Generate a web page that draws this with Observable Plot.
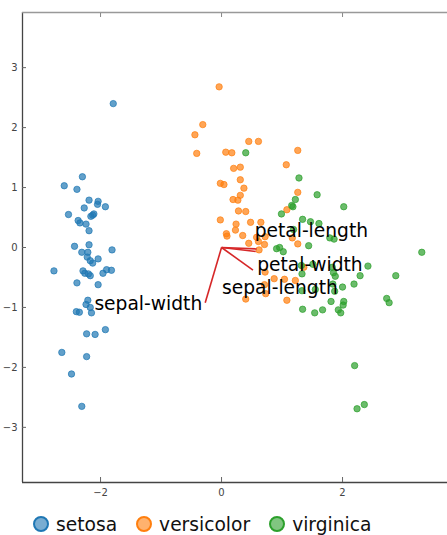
<!DOCTYPE html>
<html>
<head>
<meta charset="utf-8">
<script src="https://cdn.jsdelivr.net/npm/d3@7"></script>
<script src="https://cdn.jsdelivr.net/npm/@observablehq/plot@0.6"></script>
<style>
  html, body { margin: 0; padding: 0; background: #fff; overflow: hidden; }
  body { width: 447px; height: 535px; font-family: "DejaVu Sans", sans-serif; }
  #legend { display: flex; align-items: center; height: 48px; padding-left: 33px; box-sizing: border-box; font-size: 18.67px; color: #111; }
  .item { display: flex; align-items: center; margin-right: 19px; }
  .sw { width: 12px; height: 12px; border-radius: 50%; border: 2px solid; margin-right: 7px; box-sizing: content-box; }
</style>
</head>
<body>
<div id="chart"></div>
<div id="legend"></div>
<script>
// PCA scores (PC1, PC2)
const setosa = [
  [-1.79,2.40],[-2.30,1.18],[-2.60,1.03],[-2.39,0.97],[-2.19,0.79],[-2.04,0.77],[-2.05,0.72],[-2.27,0.66],
  [-1.92,0.68],[-2.53,0.55],[-2.11,0.56],[-2.16,0.52],[-2.13,0.54],[-2.37,0.45],[-2.34,0.41],[-2.24,0.39],
  [-2.19,0.28],[-2.43,0.02],[-2.19,0.045],[-1.81,-0.04],[-2.31,-0.08],[-2.21,-0.08],[-2.22,-0.16],[-2.17,-0.22],
  [-2.13,-0.26],[-2.04,-0.19],[-2.77,-0.39],[-2.29,-0.39],[-2.26,-0.43],[-2.20,-0.44],[-2.17,-0.47],[-1.96,-0.43],
  [-1.90,-0.37],[-1.82,-0.38],[-2.39,-0.59],[-2.04,-0.62],[-2.21,-0.88],[-2.24,-0.95],[-2.17,-1.00],[-2.15,-1.09],
  [-2.40,-1.07],[-2.35,-1.08],[-2.23,-1.44],[-2.09,-1.45],[-1.92,-1.37],[-2.64,-1.75],[-2.23,-1.82],[-2.48,-2.11],
  [-2.31,-2.65]
];
const versicolor = [
  [-0.04,2.68],[-0.31,2.05],[-0.44,1.88],[-0.41,1.57],[0.07,1.59],[0.17,1.58],[0.45,1.77],[0.61,1.77],
  [1.26,1.62],[0.31,1.34],[0.20,1.32],[1.07,1.38],[0.31,1.13],[-0.02,1.07],[0.04,1.05],[0.37,0.99],
  [0.31,0.87],[0.19,0.80],[0.27,0.79],[1.26,0.92],[1.08,0.63],[0.28,0.61],[0.40,0.60],[-0.02,0.46],
  [0.24,0.39],[0.48,0.42],[0.65,0.42],[0.23,0.29],[0.08,0.23],[0.09,0.19],[0.35,0.20],[0.58,0.17],
  [0.72,0.18],[0.45,0.07],[0.61,0.10],[0.71,0.05],[0.62,-0.04],[1.26,0.06],[1.17,0.16],[0.72,-0.41],
  [1.36,-0.33],[0.87,-0.52],[1.04,-0.53],[1.22,-0.55],[0.71,-0.62],[0.73,-0.77],[0.40,-0.86],[1.08,-0.88]
];
const virginica = [
  [0.40,1.58],[1.28,1.16],[1.58,0.88],[1.22,0.80],[1.16,0.70],[1.18,0.68],[2.02,0.68],[0.99,0.56],
  [1.34,0.47],[1.47,0.43],[1.61,0.40],[1.19,0.30],[1.79,0.16],[1.86,0.14],[1.44,0.03],[3.31,-0.08],
  [0.91,-0.02],[0.96,0.00],[1.02,-0.07],[1.32,-0.30],[1.51,-0.28],[1.33,-0.44],[1.83,-0.33],[1.85,-0.42],
  [1.88,-0.48],[2.29,-0.47],[2.42,-0.31],[2.88,-0.47],[2.19,-0.61],[2.00,-0.66],[1.84,-0.61],[1.87,-0.73],
  [1.55,-0.70],[1.33,-0.72],[1.81,-0.90],[2.02,-0.90],[2.01,-0.96],[2.73,-0.85],[2.77,-0.92],[1.34,-1.03],
  [1.54,-1.09],[1.67,-1.04],[1.93,-1.04],[1.97,-1.09],[2.20,-1.97],[2.24,-2.69],[2.36,-2.62]
];
const species = ["setosa", "versicolor", "virginica"];
const colors = ["#1f77b4", "#ff7f0e", "#2ca02c"];
const features = ["sepal-length", "sepal-width", "petal-length", "petal-width"];
const loadPC1 = [0.52, -0.27, 0.58, 0.565];
const loadPC2 = [-0.377, -0.923, -0.024, -0.067];
const xTicks = [-2, 0, 2];
const yTicks = [-3, -2, -1, 0, 1, 2, 3];
const xDomain = [-3.29, 3.735];
const yDomain = [-3.92, 3.92];

const groups = [setosa, versicolor, virginica];
const loadings = features.map((name, i) => ({name, x: loadPC1[i], y: loadPC2[i]}));
const fmt = d3.format("d");

const dotMarks = groups.map((g, i) => Plot.dot(g, {
  x: d => d[0], y: d => d[1], r: 3.2,
  fill: colors[i], fillOpacity: 0.7, stroke: colors[i], strokeOpacity: 0.7, strokeWidth: 1
}));

const lab = (name, opts) => Plot.text(loadings.filter(d => d.name === name), {
  x: "x", y: "y", text: "name", fontSize: 18.67, fill: "#000", ...opts
});

const chart = Plot.plot({
  width: 447, height: 500,
  marginTop: 12, marginBottom: 18, marginLeft: 22, marginRight: 0,
  x: {domain: xDomain},
  y: {domain: yDomain},
  style: {fontFamily: "DejaVu Sans", fontSize: "10px", background: "white", color: "#444"},
  marks: [
    ...dotMarks,
    Plot.link(loadings, {x1: () => 0, y1: () => 0, x2: "x", y2: "y", stroke: "#d62728", strokeWidth: 1.6}),
    lab("sepal-width", {textAnchor: "end", dx: -3, dy: 1}),
    lab("sepal-length", {textAnchor: "start", dx: -31, dy: 17.5}),
    lab("petal-width", {textAnchor: "start", dx: 1.5, dy: 13}),
    lab("petal-length", {textAnchor: "start", dx: -2, dy: -17.5}),
    Plot.ruleX([xDomain[0]], {stroke: "#444", strokeWidth: 1.3}),
    Plot.ruleY([yDomain[0]], {stroke: "#444", strokeWidth: 1.3}),
    Plot.ruleY([yDomain[1]], {stroke: "#999", strokeWidth: 1.3}),
    Plot.axisX(xTicks, {anchor: "bottom", tickSize: -5, tickPadding: 11, tickFormat: fmt, label: null, stroke: "#666", fill: "#444"}),
    Plot.axisX(xTicks, {anchor: "top", tickSize: -4, tickFormat: () => "", label: null, stroke: "#888"}),
    Plot.axisY(yTicks, {anchor: "left", tickSize: -4, tickPadding: 9, tickFormat: fmt, label: null, stroke: "#666", fill: "#444"})
  ]
});
document.getElementById("chart").appendChild(chart);

const legend = document.getElementById("legend");
species.forEach((s, i) => {
  const item = document.createElement("div");
  item.className = "item";
  const sw = document.createElement("span");
  sw.className = "sw";
  sw.style.borderColor = colors[i];
  sw.style.background = d3.color(colors[i]).copy({opacity: 0.6}).formatRgb();
  const t = document.createElement("span");
  t.textContent = s;
  item.appendChild(sw);
  item.appendChild(t);
  legend.appendChild(item);
});
</script>
</body>
</html>
